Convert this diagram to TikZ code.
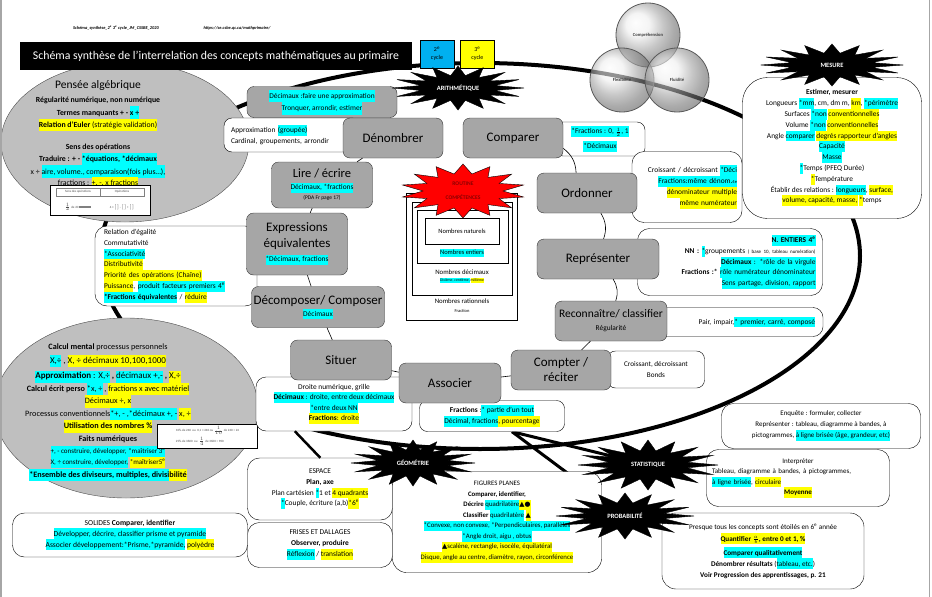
\documentclass[tikz,border=0pt]{standalone}
\usepackage{amsmath}
\usepackage{fontspec}
\setmainfont{Carlito}
\newfontfamily\dejavu{DejaVu Sans}
\usetikzlibrary{shapes.geometric,positioning,backgrounds}

\definecolor{hcyan}{RGB}{0,255,255}
\definecolor{hyel}{RGB}{255,255,0}
\definecolor{boxgray}{RGB}{166,166,166}
\definecolor{ellgray}{RGB}{191,191,191}
\definecolor{cyclebleu}{RGB}{0,176,240}
\setlength{\fboxsep}{0pt}
\newcommand\hlc[1]{\colorbox{hcyan}{\strut#1}}
\newcommand\hly[1]{\colorbox{hyel}{\strut#1}}

\tikzset{
  gbox/.style={draw=black!80, fill=boxgray, rounded corners=7pt, align=center,
    font=\fontsize{13}{16}\selectfont, inner sep=1pt},
  wbox/.style={draw=black, fill=white, rounded corners=10pt, align=center,
    font=\fontsize{7.4}{10.8}\selectfont, inner sep=1pt},
  txt/.style={align=center, font=\fontsize{7.4}{10.8}\selectfont, inner sep=0pt},
  small/.style={font=\fontsize{7.4}{10.8}\selectfont},
  burst/.style={star, star points=16, star point ratio=1.75, fill=black, draw=black, inner sep=0pt},
  bursttxt/.style={text=white, inner sep=0pt, font=\bfseries\fontsize{6.5}{8}\selectfont},
  ring/.style={draw=black, line width=0.6pt},
  fat/.style={line width=3pt},
  bulle/.style={circle, draw=gray!70!black, line width=0.8pt, ball color=gray!18, fill opacity=0.6,
    text opacity=1, minimum size=64, inner sep=0pt, text=black!75,
    font=\bfseries\fontsize{4.6}{5}\selectfont},
  imgtxt/.style={inner sep=0.5pt, text=black!70, font=\fontsize{3.2}{4.5}\selectfont},
}

\begin{document}
\begin{tikzpicture}[x=1pt,y=-1pt]
\useasboundingbox (0,0) rectangle (932,597);
\draw[gray!70, line width=2pt] (1,0) -- (1,597);
\draw[gray!70, line width=1pt] (929,0) -- (929,597);

% grande ellipse
\draw[line width=4pt] (480,256) ellipse [x radius=380, y radius=193];

% en-tete
\node[font=\bfseries\itshape\fontsize{4.4}{5}\selectfont] (fichier) at (116,28)
  {Schéma\_synthèse\_2\textsuperscript{e} 3\textsuperscript{e} cycle\_JM\_CSSBE\_2020};
\node[font=\bfseries\itshape\fontsize{4.4}{5}\selectfont] (url) at (237,28)
  {https://se.csbe.qc.ca/mathprimaire/};

% ellipses grises
\begin{scope}
\clip (2,0) rectangle (932,597);
\fill[ellgray, draw=black!70] (125,142) ellipse [x radius=124, y radius=80];
\fill[ellgray, draw=black!70] (126,408) ellipse [x radius=132, y radius=90];
\end{scope}

\node[fill=black, text=white, minimum width=392, minimum height=28,
  font=\fontsize{11.8}{14}\selectfont] (titre) at (216,56)
  {Schéma synthèse de l’interrelation des concepts mathématiques au primaire};
\node[draw, fill=cyclebleu, minimum width=34, minimum height=28, align=center,
  font=\fontsize{6}{8}\selectfont] (cycle2) at (437,54) {2\textsuperscript{e}\\cycle};
\node[draw, fill=hyel, minimum width=34, minimum height=28, align=center,
  font=\fontsize{6}{8}\selectfont, right=6pt of cycle2] (cycle3) {3\textsuperscript{e}\\cycle};

% cercles
\node[bulle] (compr) at (648,35) {Compréhension};
\node[bulle] (flex) at (622,80) {Flexibilité};
\node[bulle] (fluid) at (677,80) {Fluidité};

% pensee algebrique
\node[txt, anchor=north, font=\bfseries\fontsize{7.8}{12.5}\selectfont] (penseetxt) at (98,80) {%
{\mdseries\fontsize{11.5}{13}\selectfont Pensée algébrique}\\[2pt]
Régularité numérique, non numérique\\
Termes manquants + - \hlc{x ÷}\\
\hly{Relation d’Euler {\mdseries (stratégie validation)}}\\[9pt]
Sens des opérations\\
Traduire : + - \hlc{*équations, *décimaux}\\
{\mdseries x ÷ \hlc{aire, volume., comparaison(fois plus…),}}\\[-1pt]
{\mdseries fractions : \hly{+, -, x fractions}}};
\node[draw, fill=white, minimum width=100, minimum height=30] (penseeimg) at (100,200) {};
\node[draw=gray, imgtxt, minimum width=44, minimum height=8] (sensop) at (78,192) {Sens des opérations};
\node[draw=gray, imgtxt, minimum width=44, minimum height=8] (operations) at (122,192) {Opérations};
\node[imgtxt] (sensex) at (78,207) {$\frac{1}{2}$ de 20 \textcolor{gray}{\rule{12pt}{2pt}}};
\node[imgtxt] (opex) at (122,207) {4 × $\lbrack\ \rbrack$ - $\lbrack\ \rbrack$ + $\lbrack\ \rbrack$};

% calcul mental
\node[txt, anchor=north, font=\bfseries\fontsize{8.2}{12.5}\selectfont] (calcultxt) at (108,344) {%
Calcul mental {\mdseries processus personnels}\\[1pt]
{\mdseries\fontsize{9}{12}\selectfont \hlc{X,÷} , \hly{X, ÷ décimaux 10,100,1000}}\\[3pt]
{\fontsize{9}{12}\selectfont \hlc{Approximation {\mdseries: X,÷}} , \hlc{\mdseries décimaux +,-} , \hly{\mdseries X,÷}}\\
Calcul écrit perso {\mdseries\hlc{*x, ÷} , \hly{fractions x avec matériel}}\\
{\mdseries\hly{Décimaux ÷, x}}\\
{\mdseries Processus conventionnels\hlc{*+, - ,*décimaux +, -} \hly{x, ÷}}\\
\hly{Utilisation des nombres \%}\\
Faits numériques\\
{\mdseries\fontsize{7}{11}\selectfont \hlc{+, - construire, développer, *maîtriser 3\textsuperscript{e}}}\\[-1.5pt]
{\mdseries\fontsize{7}{11}\selectfont \hlc{X, ÷ construire, développer,} \hly{*maîtriser5\textsuperscript{e}}}\\
\hlc{*Ensemble des diviseurs, multiples, divisi}\hly{bilité}};
\node[draw, fill=white, minimum width=100, minimum height=24, align=left, imgtxt]
  (calculimg) at (207.5,436)
  {10\% de 240 \ ou \ 0,1 × 240 ou $\frac{1}{10}$ de 240 = 24\\[2pt]
   25\% de 3600 \ ou \ $\frac{1}{4}$ de 3600 = 900};

% boites du haut
\node[gbox, minimum width=150, minimum height=31, font=\fontsize{7.4}{12.5}\selectfont] (tronquer) at (322,102)
  {\hlc{Décimaux :faire une approximation}\\\hlc{Tronquer, arrondir, estimer}};
\node[wbox, minimum width=136, minimum height=34, align=left, text width=122, rounded corners=8pt] (approx) at (292,135)
  {Approximation \hlc{(groupée)}\\Cardinal, groupements, arrondir};
\node[gbox, minimum width=100, minimum height=40] (denombrer) at (393,138) {Dénombrer};
\node[wbox, minimum width=90, minimum height=34, rounded corners=8pt] (fractions) at (600,139)
  {\hlc{*Fractions : 0, $\tfrac{1}{2}$, 1}\\[4pt]\hlc{*Décimaux}};
\node[gbox, minimum width=100, minimum height=40] (comparer) at (513,138) {Comparer};
\node[wbox, minimum width=110, minimum height=71, align=right, text width=100, rounded corners=12pt] (croissant) at (687,187)
  {Croissant / décroissant \hlc{*Déci}\\
   \hlc{Fractions:même dénom.{\fontsize{4.5}{5}\selectfont 4e}}\\
   \hly{dénominateur multiple}\\
   \hly{même numérateur}};
\node[gbox, minimum width=100, minimum height=40] (ordonner) at (587,193) {Ordonner};

% mesure
\node[wbox, minimum width=179, minimum height=141, rounded corners=25pt] (mesure) at (832,148)
  {\textbf{Estimer, mesurer}\\
   Longueurs \hlc{*mm}, cm, dm m, \hly{km}, \hlc{*périmètre}\\
   Surfaces \hlc{*non} \hly{conventionnelles}\\
   Volume \hlc{*non} \hly{conventionnelles}\\
   Angle \hlc{comparer} \hly{degrés rapporteur d’angles}\\
   \hlc{Capacité}\\
   \hlc{Masse}\\
   \hlc{*}Temps (PFEQ Durée)\\
   \hly{*}Température\\
   Établir des relations : \hlc{longueurs}, \hly{surface,}\\
   \hly{volume, capacité, masse,} \hly{*}temps};

% anneau de gauche
\node[wbox, minimum width=162, minimum height=80, align=left, text width=144, rounded corners=12pt] (relation) at (176,266)
  {Relation d’égalité\\
   Commutativité\\
   \hlc{*Associativité}\\
   \hly{Distributivité}\\
   \hly{Priorité des opérations (Chaîne)}\\
   \hly{Puissance}, \hlc{produit facteurs premiers 4\textsuperscript{e}}\\
   \hlc{\textbf{*Fractions équivalentes}} / \hly{réduire}};
\node[gbox, minimum width=101, minimum height=46, font=\fontsize{12.5}{13}\selectfont] (lire) at (322,185)
  {Lire / écrire\\[-1pt]{\fontsize{7.4}{10}\selectfont\hlc{Décimaux, *fractions}}\\[-3pt]{\fontsize{5.5}{7}\selectfont (PDA Fr page 17)}};
\node[gbox, minimum width=101, minimum height=62] (expr) at (297,244)
  {Expressions\\équivalentes\\[-2pt]{\fontsize{7.4}{10}\selectfont\hlc{*Décimaux, fractions}}};
\node[gbox, minimum width=133, minimum height=41] (decomp) at (318,307)
  {Décomposer/ Composer\\[-4pt]{\fontsize{7.4}{10}\selectfont\hlc{Décimaux}}};

% anneau de droite
\node[wbox, minimum width=185, minimum height=67, align=right, text width=171, rounded corners=12pt] (entiers) at (730,262)
  {\hlc{\textbf{N. ENTIERS 4\textsuperscript{e}}}\\
   \textbf{NN :} \hlc{*}groupements {\fontsize{5}{6}\selectfont( base 10, tableau numération)}\\
   \hlc{\textbf{Décimaux} : *rôle de la virgule}\\
   \textbf{Fractions :*} \hlc{rôle numérateur dénominateur}\\
   \hlc{Sens partage, division, rapport}};
\node[gbox, minimum width=122, minimum height=40] (repr) at (598,259) {Représenter};
\node[wbox, minimum width=166, minimum height=29, align=right, text width=150] (pair) at (740,322)
  {Pair, impair,\hlc{* premier, carré, composé}};
\node[gbox, minimum width=112, minimum height=40, font=\fontsize{11.5}{13}\selectfont] (reconn) at (611,321)
  {Reconnaître/ classifier\\{\fontsize{7.4}{10}\selectfont Régularité}};
\node[wbox, minimum width=97, minimum height=37, rounded corners=8pt, font=\fontsize{7.2}{11.5}\selectfont] (bonds) at (656,369.5)
  {Croissant, décroissant\\Bonds};
\node[gbox, minimum width=100, minimum height=40, font=\fontsize{13}{15}\selectfont] (compter) at (561,370) {Compter /\\réciter};

% bas de l'anneau
\node[wbox, minimum width=156, minimum height=54, font=\fontsize{7.4}{10.5}\selectfont] (droite) at (334,404)
  {Droite numérique, grille\\
   \hlc{\textbf{Décimaux} : droite, entre deux décimaux}\\
   \hlc{*entre deux NN}\\
   \hly{\textbf{Fractions}: droite}};
\node[gbox, minimum width=101, minimum height=40] (situer) at (341,360) {Situer};
\node[wbox, minimum width=145, minimum height=31, rounded corners=8pt] (partie) at (492,416)
  {\textbf{Fractions} :\hlc{* partie d’un tout}\\
   \hlc{Décimal, fractions}\hly{, pourcentage}};
\node[gbox, minimum width=102, minimum height=40] (associer) at (450,383) {Associer};

% liens de l'anneau
\draw[ring] (denombrer) -- (lire);
\draw[ring] (lire) -- (expr);
\draw[ring] (expr) -- (decomp);
\draw[ring] (decomp) -- (situer);
\draw[ring] (situer) -- (associer);
\draw[ring] (associer) -- (compter);
\draw[ring] (compter) -- (reconn);
\draw[ring] (reconn) to[bend right=25] (repr);
\draw[ring] (repr) to[bend right=25] (ordonner);
\draw[ring] (ordonner) to[bend right=25] (comparer);

% ensembles de nombres
\node[draw, fill=white, minimum width=111, minimum height=127] (rationnels) at (461.5,256.5) {};
\node[draw, minimum width=100, minimum height=93] (decimaux) at (462,248.5) {};
\node[draw, minimum width=91, minimum height=53] (entiersbox) at (462.5,236.5) {};
\node[draw, minimum width=74, minimum height=26, small, font=\fontsize{6.5}{8}\selectfont] (naturels) at (462,231) {Nombres naturels};
\node[small, inner sep=0pt, font=\fontsize{6.5}{8}\selectfont] (entierstxt) at (462,253) {\hlc{Nombres entiers}};
\node[txt, font=\fontsize{6.8}{7}\selectfont] (decimauxtxt) at (462,276)
  {Nombres décimaux\\{\fontsize{3.8}{5}\selectfont\hlc{Dixième, centième,} \hly{millième}}};
\node[txt, font=\fontsize{6.8}{9}\selectfont] (rationnelstxt) at (462,306)
  {Nombres rationnels\\{\fontsize{4.5}{5}\selectfont Fraction}};
\node[star, star points=14, star point ratio=1.55, draw=black, fill=red, minimum size=54, xscale=2.3] (routine) at (463,191) {};
\node[txt, text=red!55!black, font=\bfseries\fontsize{5.6}{14}\selectfont] (routinetxt) at (463,191) {ROUTINE\\COMPÉTENCES};

% boites du bas
\node[wbox, minimum width=145, minimum height=62, rounded corners=12pt] (espace) at (320,489)
  {ESPACE\\ \textbf{Plan, axe}\\
   Plan cartésien \hlc{*}1 et \hly{4 quadrants}\\
   \hlc{*}Couple, écriture (a,b)\hly{*6\textsuperscript{e}}};
\node[wbox, minimum width=145, minimum height=45, rounded corners=12pt] (frises) at (320,545)
  {FRISES ET DALLAGES\\ \textbf{Observer, produire}\\
   \hlc{Réflexion} / \hly{translation}};
\node[wbox, minimum width=235, minimum height=44, rounded corners=12pt, font=\fontsize{7.6}{11}\selectfont] (solides) at (130,535)
  {SOLIDES \textbf{Comparer, identifier}\\
   \hlc{Développer, décrire, classifier prisme et pyramide}\\
   \hlc{Associer développement:*Prisme,*pyramide,} \hly{polyèdre}};
\node[wbox, minimum width=209, minimum height=101, rounded corners=14pt, font=\fontsize{6.8}{10.5}\selectfont] (figures) at (497,522)
  {FIGURES PLANES\\
   \textbf{Comparer, identifier,}\\
   \textbf{Décrire} \hlc{quadrilatère}\hly{\dejavu ▲●}\\
   \textbf{Classifier} \hlc{quadrilatère} \hly{\dejavu ▲}\\
   \hlc{*Convexe, non convexe, *Perpendiculaires, parallèles}\\
   \hlc{*Angle droit, aigu , obtus}\\
   \hly{{\dejavu ▲}scalène, rectangle, isocèle, équilatéral}\\
   \hly{Disque, angle au centre, diamètre, rayon, circonférence}};
\node[wbox, minimum width=199, minimum height=45, rounded corners=12pt, font=\fontsize{7}{11}\selectfont] (enquete) at (821,426)
  {Enquête : formuler, collecter\\
   Représenter : tableau, diagramme à bandes, à\\
   pictogrammes, \hlc{à ligne brisée (âge, grandeur, etc)}};
\node[wbox, minimum width=183, minimum height=57, rounded corners=12pt, text width=172, align=left, font=\fontsize{7}{10.5}\selectfont] (interpreter) at (798,478)
  {\centering Interpréter\par
   \raggedright Tableau, diagramme à bandes, à pictogrammes,\par
   \hlc{à ligne brisée}, \hly{circulaire}\par
   \centering \hly{\textbf{Moyenne}}\par};
\node[wbox, minimum width=202, minimum height=76, rounded corners=14pt, font=\fontsize{7.2}{11}\selectfont] (presque) at (763,551)
  {Presque tous les concepts sont étoilés en 6\textsuperscript{e} année\\[1pt]
   \hly{\textbf{Quantifier} $\tfrac{a}{b}$\textbf{, entre 0 et 1, \%}}\\[3pt]
   \hlc{\textbf{Comparer qualitativement}}\\
   \textbf{Dénombrer résultats} (\hlc{tableau, etc.})\\
   \textbf{Voir Progression des apprentissages, p. 21}};
\draw[line width=2.5pt] ([xshift=39pt]droite.south west) -- ([xshift=73pt]espace.north west);

% etoiles des domaines
\node[burst, minimum size=44, xscale=3] (arithstar) at (458,88) {};
\node[bursttxt] (arithtxt) at (458,88) {ARITHMÉTIQUE};
\node[burst, minimum size=42, xscale=3.4] (mesurestar) at (832,65) {};
\node[bursttxt] (mesuretxt) at (832,65) {MESURE};
\node[burst, minimum size=46, xscale=2.7] (geomstar) at (413,463) {};
\node[bursttxt] (geomtxt) at (413,463) {GÉOMÉTRIE};
\node[burst, minimum size=50, xscale=2.8] (statstar) at (648,465) {};
\node[bursttxt] (stattxt) at (648,465) {STATISTIQUE};
\node[burst, minimum size=46, xscale=3] (probastar) at (625,516) {};
\node[bursttxt] (probatxt) at (625,516) {PROBABILITÉ};
\begin{pgfonlayer}{background}
\draw[fat] ([xshift=20pt]partie.south) -- (statstar.center);
\draw[fat] ([xshift=20pt]partie.south) -- (probastar.center);
\end{pgfonlayer}
\end{tikzpicture}
\end{document}
